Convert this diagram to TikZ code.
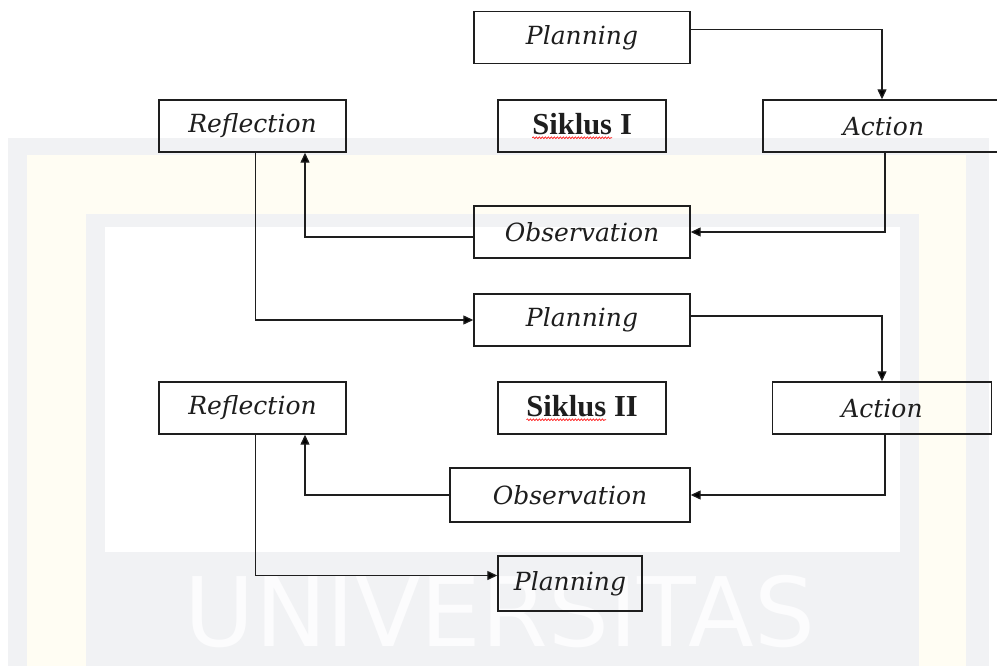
\documentclass[tikz,border=0pt]{standalone}
\usepackage{fontspec}
\setmainfont{DejaVu Serif}
\newfontfamily\cycfont{Liberation Serif}
\newfontfamily\wmfont{DejaVu Sans}
\usetikzlibrary{arrows.meta,decorations.pathmorphing}
\definecolor{wmgray}{RGB}{241,242,244}
\definecolor{wmcream}{RGB}{255,253,243}
\definecolor{wmtext}{RGB}{252,252,253}
\definecolor{ink}{RGB}{30,30,30}
\newcommand{\spellwave}[1]{\tikz[baseline=(sw.base)]{\node[inner sep=0pt,outer sep=0pt,draw=none,minimum size=0pt](sw){#1};\draw[red,line width=0.6pt,decorate,decoration={snake,amplitude=0.9pt,segment length=3pt}]([yshift=-3.5pt]sw.base west)--([yshift=-3.5pt]sw.base east);}}
\tikzset{
  stagebox/.style={draw=ink, line width=1.4pt, inner sep=0pt, minimum height=52pt, text=ink,
    font=\fontsize{25}{28}\selectfont\itshape},
  cyclebox/.style={draw=ink, line width=1.4pt, inner sep=0pt, minimum height=52pt, minimum width=168pt,
    text=ink, font=\cycfont\bfseries\fontsize{30.5}{33}\selectfont},
  flow/.style={line width=1.3pt, draw=ink, -{Triangle[length=10pt,width=9pt]}},
  wmband/.style={draw=none},
}
\begin{document}
\begin{tikzpicture}[x=1pt,y=-1pt]
\useasboundingbox (0,0) rectangle (997,666);
% faint watermark background
\fill[white] (0,0) rectangle (997,666);
\fill[wmgray] (8,138) rectangle (989,666);
\fill[wmcream] (27,155) rectangle (966,666);
\fill[wmgray] (86,214) rectangle (919,666);
\fill[white] (105,227) rectangle (900,552);
\node[wmband, text=wmtext, font=\wmfont\fontsize{96}{96}\selectfont, inner sep=0pt, anchor=base] (wm) at (500,646) {UNIVERSITAS};

% stages
\node[stagebox, minimum width=216pt] (P1) at (582,37.75) {Planning};
\node[stagebox, minimum width=187pt] (R1) at (252.5,126) {Reflection};
\node[cyclebox] (S1) at (582,126) {\spellwave{Siklus} I};
\node[stagebox, minimum width=241pt] (A1) at (883.5,126) {Action};
\node[stagebox, minimum width=216pt] (O1) at (582,232) {Observation};
\node[stagebox, minimum width=216pt] (P2) at (582,320) {Planning};
\node[stagebox, minimum width=187pt] (R2) at (252.5,408) {Reflection};
\node[cyclebox] (S2) at (582,408) {\spellwave{Siklus} II};
\node[stagebox, minimum width=219.5pt] (A2) at (882,408) {Action};
\node[stagebox, minimum width=240pt, minimum height=54pt] (O2) at (570,495) {Observation};
\node[stagebox, minimum width=144pt, minimum height=55pt] (P3) at (570,583.5) {Planning};

% connectors
\draw[flow] ([yshift=8pt]P1.east) -| ([xshift=-1.5pt]A1.north);
\draw[flow] ([xshift=1.5pt]A1.south) |- (O1.east);
\draw[flow] ([yshift=-5pt]O1.west) -| ([xshift=52.5pt]R1.south);
\draw[flow] ([xshift=3pt]R1.south) |- (P2.west);
\draw[flow] ([yshift=4pt]P2.east) -| (A2.north);
\draw[flow] ([xshift=3pt]A2.south) |- (O2.east);
\draw[flow] (O2.west) -| ([xshift=52.5pt]R2.south);
\draw[flow] ([xshift=3pt]R2.south) |- ([yshift=8pt]P3.west);
\end{tikzpicture}
\end{document}
